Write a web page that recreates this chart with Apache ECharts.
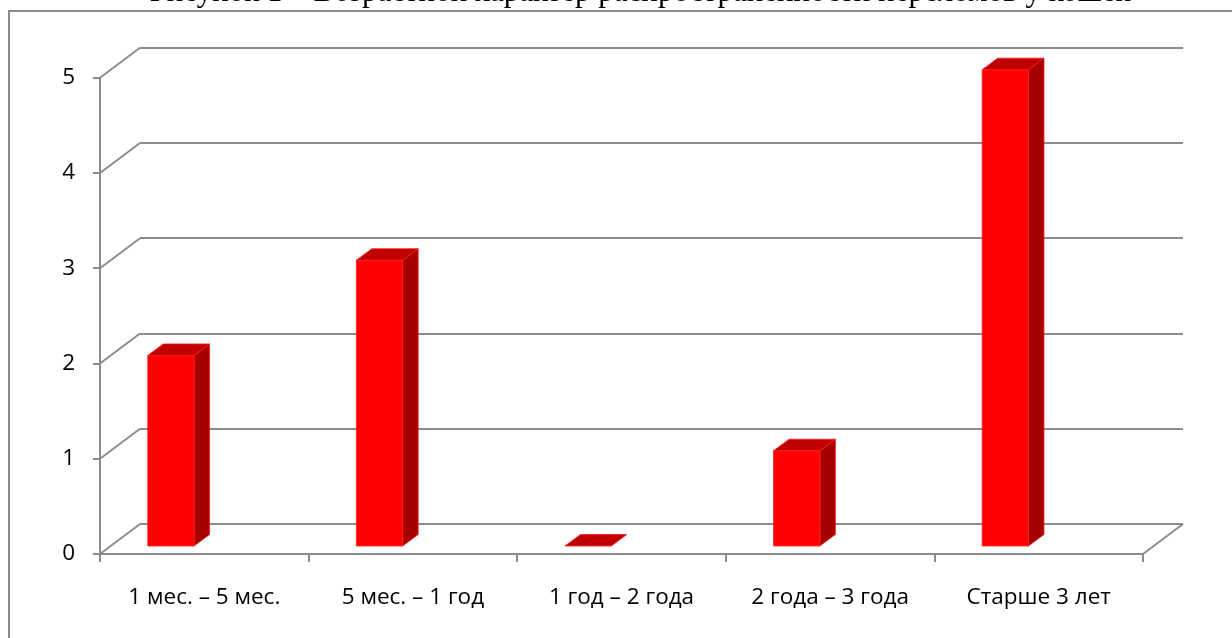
<!DOCTYPE html>
<html>
<head>
<meta charset="utf-8">
<script src="https://cdn.jsdelivr.net/npm/echarts@6/dist/echarts.min.js"></script>
<style>
  html, body { margin: 0; padding: 0; background: #fff; }
  #chart { width: 1232px; height: 638px; }
</style>
</head>
<body>
<div id="chart"></div>
<script>
// Age groups and number of fracture cases in cats
const categories = ['1 мес. – 5 мес.', '5 мес. – 1 год', '1 год – 2 года', '2 года – 3 года', 'Старше 3 лет'];
const cases = [2, 3, 0, 1, 5];
const yTicks = [0, 1, 2, 3, 4, 5];
const titleText = 'Рисунок 1 – Возрастной характер распространенности переломов у кошек';

const GRID_COLOR = '#8c8c8c';
const LABEL_FONT = '"Open Sans", "Noto Sans", sans-serif';
// oblique depth of the floor / back wall
const DEPTH_X = 40, DEPTH_Y = -30;

const chart = echarts.init(document.getElementById('chart'), null, { renderer: 'canvas' });

// side walls of the 3D frame: short diagonals from the front axis back to the wall
function renderFrame(params, api) {
  const k = api.value(1);
  const band = api.size([1, 0])[0];
  const p = api.coord([0, k]);
  const left = p[0] - band / 2;
  const children = [{
    type: 'line',
    shape: { x1: left, y1: p[1], x2: left + DEPTH_X, y2: p[1] + DEPTH_Y },
    style: { stroke: GRID_COLOR, lineWidth: 2 }
  }];
  if (k === 0) {
    const q = api.coord([categories.length - 1, 0]);
    const right = q[0] + band / 2;
    children.push({
      type: 'line',
      shape: { x1: right, y1: q[1], x2: right + DEPTH_X, y2: q[1] + DEPTH_Y },
      style: { stroke: GRID_COLOR, lineWidth: 2 }
    });
  }
  return { type: 'group', children: children };
}

// 3D column: front face, top and right side
function renderBar(params, api) {
  const i = api.value(0);
  const v = api.value(1);
  const band = api.size([1, 0])[0];
  const base = api.coord([i, 0]);
  const top = api.coord([i, v]);
  const lift = 8;                    // columns stand partway into the floor
  const L = base[0] - band * 0.271;
  const R = L + band * 0.222;
  const yb = base[1] - lift;
  const yt = top[1] - lift;
  const dx = 15.5, dy = -11.5;
  const stroke = { stroke: '#ff1a1a', lineWidth: 0.8 };
  const children = [];
  if (v > 0) {
    children.push({
      type: 'polygon',
      shape: { points: [[R, yt], [R + dx, yt + dy], [R + dx, yb + dy], [R, yb]] },
      style: Object.assign({ fill: '#a50000' }, stroke)
    });
    children.push({
      type: 'rect',
      shape: { x: L, y: yt, width: R - L, height: yb - yt },
      style: Object.assign({ fill: '#ff0000' }, stroke)
    });
  }
  children.push({
    type: 'polygon',
    shape: { points: [[L, yt], [R, yt], [R + dx, yt + dy], [L + dx, yt + dy]] },
    style: Object.assign({ fill: '#c00000' }, stroke)
  });
  return { type: 'group', children: children };
}

const option = {
  animation: false,
  backgroundColor: '#ffffff',
  graphic: [
    {
      type: 'rect', silent: true, z: -10,
      shape: { x: 9, y: 11, width: 1400, height: 800 },
      style: { fill: 'none', stroke: '#8a8a8a', lineWidth: 2 }
    },
    {
      type: 'text', silent: true,
      x: 640, y: 8,
      style: {
        text: titleText,
        font: '31px "Liberation Serif", "Times New Roman", serif',
        fill: '#000',
        textAlign: 'center',
        textVerticalAlign: 'bottom'
      }
    }
  ],
  grid: [
    { left: 100, right: 89, top: 77.7, bottom: 84 },
    { left: 140, right: 49, top: 47.7, bottom: 114 }
  ],
  xAxis: [
    {
      type: 'category', gridIndex: 0, data: categories, boundaryGap: true,
      axisLine: { show: true, lineStyle: { color: GRID_COLOR, width: 2 } },
      axisTick: { show: true, length: 8, lineStyle: { color: GRID_COLOR, width: 2 } },
      axisLabel: { color: '#000', fontFamily: LABEL_FONT, fontSize: 22.5, margin: 32 },
      splitLine: { show: false }
    },
    {
      type: 'category', gridIndex: 1, data: categories, show: false
    }
  ],
  yAxis: [
    {
      type: 'value', gridIndex: 0, min: 0, max: 5, interval: 1,
      axisLine: { show: true, lineStyle: { color: GRID_COLOR, width: 2 } },
      axisTick: { show: true, length: 7, lineStyle: { color: GRID_COLOR, width: 2 } },
      axisLabel: { color: '#000', fontFamily: LABEL_FONT, fontSize: 22.5, margin: 25 },
      splitLine: { show: false }
    },
    {
      type: 'value', gridIndex: 1, min: 0, max: 5, interval: 1,
      axisLine: { show: false }, axisTick: { show: false }, axisLabel: { show: false },
      splitLine: { show: true, lineStyle: { color: GRID_COLOR, width: 2 } }
    }
  ],
  series: [
    {
      type: 'custom', xAxisIndex: 0, yAxisIndex: 0, z: 1, silent: true,
      renderItem: renderFrame,
      data: yTicks.map(function (t) { return [0, t]; })
    },
    {
      type: 'custom', xAxisIndex: 0, yAxisIndex: 0, z: 5, silent: true,
      renderItem: renderBar,
      data: cases.map(function (v, i) { return [i, v]; })
    }
  ]
};

chart.setOption(option);
</script>
</body>
</html>
